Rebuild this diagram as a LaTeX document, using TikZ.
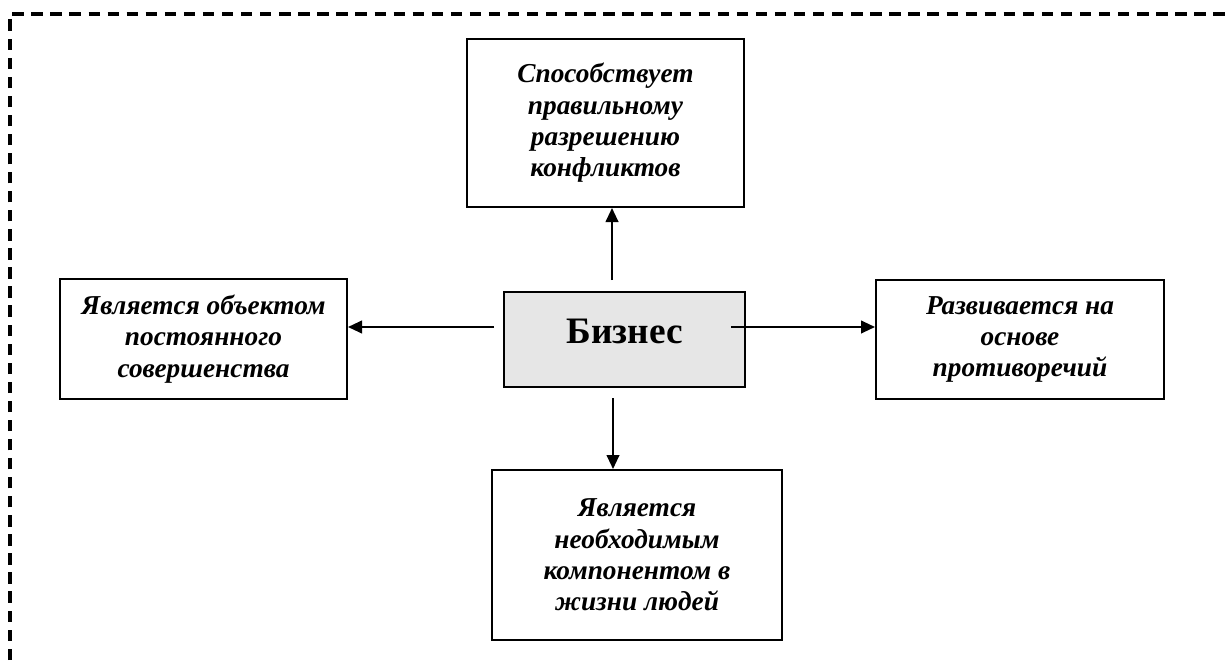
\documentclass[tikz,border=0pt]{standalone}
\usepackage{fontspec}
\setmainfont{Liberation Serif}
\usetikzlibrary{arrows.meta}
\begin{document}
\begin{tikzpicture}[x=0.75pt,y=-0.75pt,
  box/.style={draw=black,line width=1.5pt,align=center,inner sep=0pt,
    font=\fontsize{20.5}{23.5}\selectfont\bfseries\itshape},
  arr/.style={line width=1.5pt,-{Triangle[length=10.5pt,width=9.5pt]}},
  frame/.style={line width=2.3pt,dash pattern=on 8.5pt off 5.8pt}]
\useasboundingbox (0,0) rectangle (1230,660);
\draw[frame] (10,660) -- (10,14) -- (1230,14);
\node[box,minimum width=277*0.75pt,minimum height=168*0.75pt] (top) at (605.5,123)
  {Способствует\\правильному\\разрешению\\конфликтов};
\node[box,fill={rgb,255:red,230;green,230;blue,230},minimum width=241*0.75pt,minimum height=95*0.75pt,
  font=\fontsize{28}{32}\selectfont\bfseries] (biz) at (624.5,339.5)
  {\raisebox{13pt}{Бизнес}};
\node[box,minimum width=287*0.75pt,minimum height=120*0.75pt] (left) at (203.5,339)
  {Является объектом\\постоянного\\совершенства};
\node[box,minimum width=288*0.75pt,minimum height=119*0.75pt] (right) at (1020,339.5)
  {Развивается на\\основе\\противоречий};
\node[box,minimum width=290*0.75pt,minimum height=170*0.75pt] (bottom) at (637,555)
  {Является\\необходимым\\компонентом в\\жизни людей};
\coordinate (up0) at (612,280);
\coordinate (l0) at (494,327);
\coordinate (r0) at (731,327);
\coordinate (d0) at (613,398);
\draw[arr] (up0) -- (up0 |- top.south);
\draw[arr] (l0) -- (l0 -| left.east);
\draw[arr] (r0) -- (r0 -| right.west);
\draw[arr] (d0) -- (d0 |- bottom.north);
\end{tikzpicture}
\end{document}
